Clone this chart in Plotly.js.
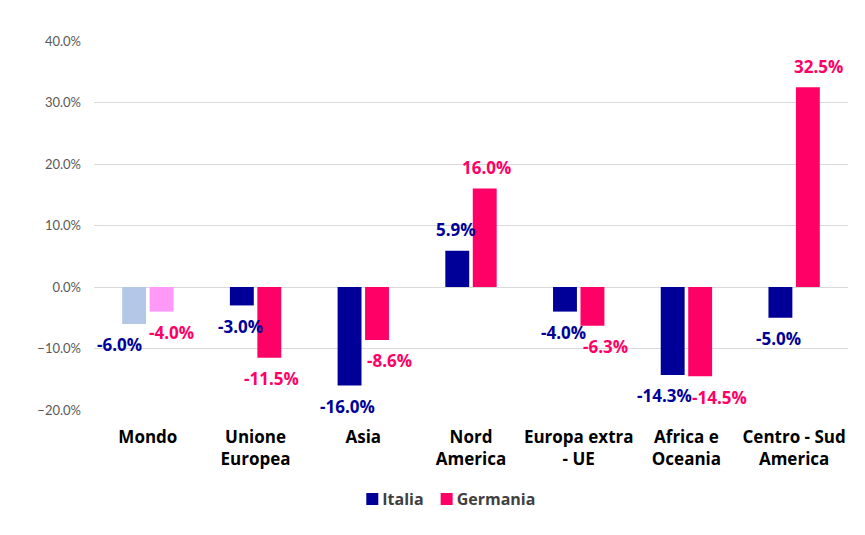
<!DOCTYPE html>
<html>
<head>
<meta charset="utf-8">
<script src="https://cdn.plot.ly/plotly-3.0.1.min.js"></script>
<style>html,body{margin:0;padding:0;background:#fff;}#chart{width:865px;height:535px;}</style>
</head>
<body>
<div id="chart"></div>
<script>
const categories = ["Mondo", "Unione<br>Europea", "Asia", "Nord<br>America", "Europa extra<br>- UE", "Africa e<br>Oceania", "Centro - Sud<br>America"];
const italia = [-0.060, -0.030, -0.160, 0.059, -0.040, -0.143, -0.050];
const germania = [-0.040, -0.115, -0.086, 0.160, -0.063, -0.145, 0.325];
const italiaColors = ["#b4c7e7", "#000099", "#000099", "#000099", "#000099", "#000099", "#000099"];
const germaniaColors = ["#ff99f8", "#ff0066", "#ff0066", "#ff0066", "#ff0066", "#ff0066", "#ff0066"];
const yTicks = [-0.2, -0.1, 0, 0.1, 0.2, 0.3, 0.4];

// label style / placement (pixels), not data
const BAR_OFFSET = 15.5;
const LABEL_GAP = 21;
const italiaNudge = {0: -13, 5: -6};
const germaniaNudge = {0: 8, 2: 11, 4: 11, 5: 18, 6: 9};
const labelFontBase = {family: "'Open Sans', sans-serif", size: 17, weight: 700};

function fmt(v){ return (v*100).toFixed(1) + "%"; }

const annotations = [];
categories.forEach(function(c, i){
  annotations.push({
    x: c, y: italia[i], xref: "x", yref: "y", showarrow: false,
    text: "<b>" + fmt(italia[i]) + "</b>",
    xshift: -BAR_OFFSET + (italiaNudge[i] || 0),
    yshift: italia[i] < 0 ? -LABEL_GAP : LABEL_GAP,
    xanchor: "center", yanchor: "middle",
    font: Object.assign({color: "#000099"}, labelFontBase)
  });
  annotations.push({
    x: c, y: germania[i], xref: "x", yref: "y", showarrow: false,
    text: "<b>" + fmt(germania[i]) + "</b>",
    xshift: BAR_OFFSET + (germaniaNudge[i] || 0),
    yshift: germania[i] < 0 ? -LABEL_GAP : LABEL_GAP,
    xanchor: "center", yanchor: "middle",
    font: Object.assign({color: "#ff0066"}, labelFontBase)
  });
});

const traces = [
  {type: "bar", name: "Italia", x: categories, y: italia,
   marker: {color: italiaColors}, hoverinfo: "skip"},
  {type: "bar", name: "Germania", x: categories, y: germania,
   marker: {color: germaniaColors}, hoverinfo: "skip"}
];

const layout = {
  width: 865, height: 535,
  margin: {l: 94, r: 17, t: 41, b: 125},
  paper_bgcolor: "#ffffff", plot_bgcolor: "#ffffff",
  barmode: "group", bargap: 0.49, bargroupgap: 0.13,
  font: {family: "'Open Sans', sans-serif"},
  annotations: annotations,
  xaxis: {
    type: "category", showgrid: false, zeroline: false, showline: false,
    ticks: "", ticklabelstandoff: 15,
    tickfont: {size: 17, color: "#000000", weight: 700, family: "'Open Sans', sans-serif"},
    automargin: false
  },
  yaxis: {
    range: [-0.2, 0.4], tickvals: yTicks, tickformat: ".1%",
    showgrid: true, gridcolor: "#d9d9d9", gridwidth: 1,
    zeroline: true, zerolinecolor: "#d9d9d9", zerolinewidth: 1,
    showline: false, ticks: "", ticklabelstandoff: 12,
    tickfont: {size: 13, color: "#595959", family: "Lato, sans-serif"},
    automargin: false
  },
  showlegend: true,
  legend: {
    orientation: "h", xref: "container", yref: "container",
    x: 0.52, xanchor: "center", y: 0.067, yanchor: "middle",
    font: {size: 16, color: "#404040", weight: 700, family: "'Open Sans', sans-serif"},
    traceorder: "normal"
  }
};

Plotly.newPlot("chart", traces, layout, {displayModeBar: false, staticPlot: true}).then(function(gd){
  const items = gd.querySelectorAll(".legend .traces");
  const legendCols = ["#000099", "#ff0066"];
  const itemShift = [-2, -14];
  items.forEach(function(it, i){
    it.querySelectorAll(".legendpoints path").forEach(function(p){ p.style.fill = legendCols[i]; });
    const lp = it.querySelector(".legendpoints");
    if (lp) lp.setAttribute("transform", "translate(10,0)");
    const tr = it.getAttribute("transform") || "";
    const m = tr.match(/translate\(\s*([-\d.]+)[ ,]+([-\d.]+)\s*\)/);
    if (m) it.setAttribute("transform", "translate(" + (parseFloat(m[1]) + itemShift[i]) + "," + m[2] + ")");
  });
});
</script>
</body>
</html>
